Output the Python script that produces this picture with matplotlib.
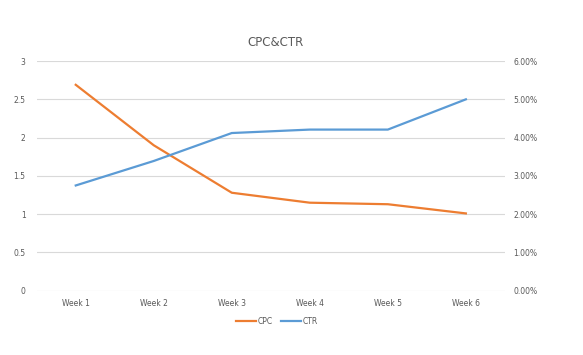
import matplotlib.pyplot as plt
from matplotlib.ticker import FuncFormatter

# data
weeks = ['Week 1', 'Week 2', 'Week 3', 'Week 4', 'Week 5', 'Week 6']
cpc = [2.69, 1.90, 1.28, 1.15, 1.13, 1.01]
ctr = [0.0275, 0.0339, 0.0412, 0.0421, 0.0421, 0.0500]

grey = '#595959'

fig = plt.figure(figsize=(5.83, 3.55), dpi=100)
ax = fig.add_axes([0.063, 0.181, 0.803, 0.647])
ax2 = ax.twinx()

x = list(range(len(weeks)))
l1, = ax.plot(x, cpc, color='#ED7D31', lw=1.6, label='CPC', solid_joinstyle='round')
l2, = ax2.plot(x, ctr, color='#5B9BD5', lw=1.6, label='CTR', solid_joinstyle='round')

ax.set_xlim(-0.5, len(weeks) - 0.5)
ax.set_ylim(0, 3)
ax.set_yticks([0, 0.5, 1, 1.5, 2, 2.5, 3])
ax.set_yticklabels(['0', '0.5', '1', '1.5', '2', '2.5', '3'])
ax2.set_ylim(0, 0.06)
ax2.set_yticks([0, 0.01, 0.02, 0.03, 0.04, 0.05, 0.06])
ax2.yaxis.set_major_formatter(FuncFormatter(lambda v, p: '%.2f%%' % (v * 100)))
ax.set_xticks(x)
ax.set_xticklabels(weeks)

ax.grid(axis='y', color='#D9D9D9', lw=0.8)
ax.set_axisbelow(True)
for a in (ax, ax2):
    for s in a.spines.values():
        s.set_visible(False)
    a.tick_params(length=0, labelsize=5.5, colors=grey)
ax.tick_params(axis='y', pad=8)
ax2.tick_params(axis='y', pad=6)
ax.tick_params(axis='x', pad=6)

fig.suptitle('CPC&CTR', x=0.472, y=0.9, fontsize=8.5, color=grey)

fig.legend(handles=[l1, l2], loc='center', bbox_to_anchor=(0.475, 0.095), ncol=2,
           frameon=False, fontsize=5.5, labelcolor=grey, handlelength=2.6,
           handletextpad=0.2, columnspacing=1.2)

fig.savefig('out.png', dpi=100)
